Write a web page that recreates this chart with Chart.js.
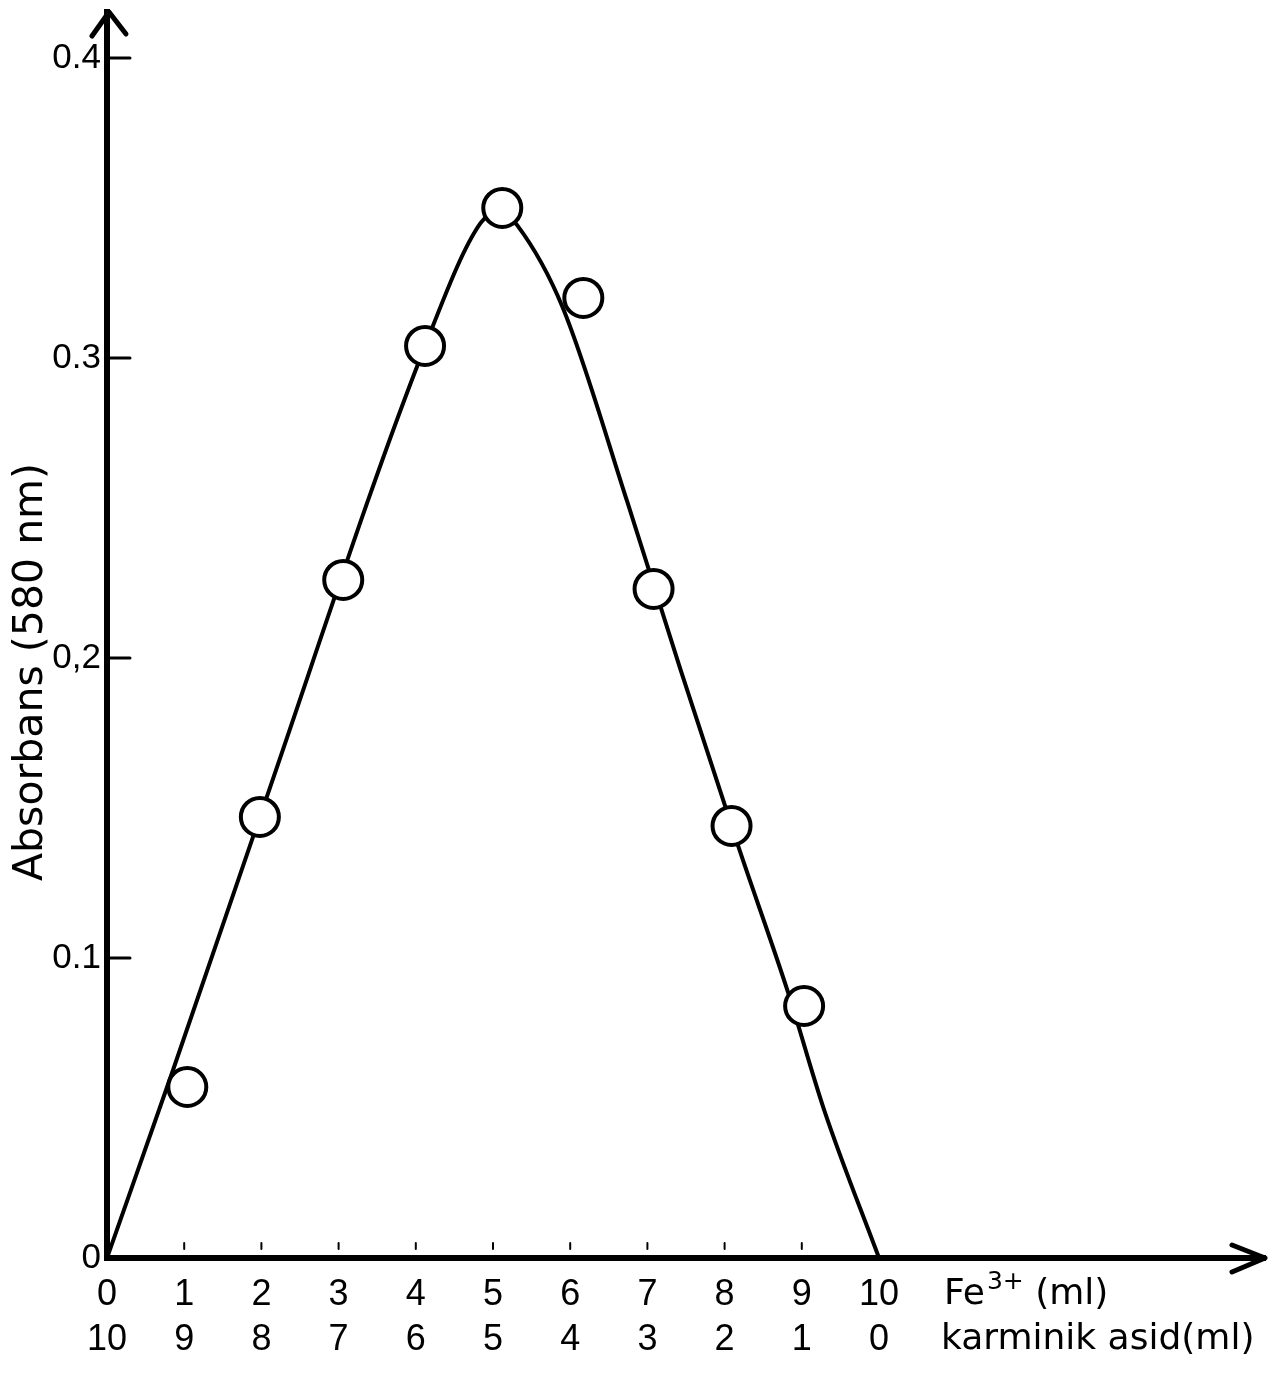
<!DOCTYPE html>
<html><head><meta charset="utf-8">
<script src="https://cdn.jsdelivr.net/npm/chart.js@4.4.1/dist/chart.umd.min.js"></script>
<style>html,body{margin:0;padding:0;background:#fff}#wrap{width:1282px;height:1375px;position:relative}canvas{display:block}</style>
</head><body><div id="wrap"><canvas id="c" width="1282" height="1375"></canvas></div>
<script>
// Measured points: Fe3+ volume (ml) vs absorbance at 580 nm
const fe3Volumes = [1.04, 1.98, 3.06, 4.12, 5.12, 6.17, 7.08, 8.09, 9.03];
const absorbance = [0.057, 0.147, 0.226, 0.304, 0.350, 0.320, 0.223, 0.144, 0.084];
// Hand-drawn fitted curve
const curveX = [0, 0.86, 1.98, 4.12, 4.84, 5.10, 5.32, 5.90, 6.74, 7.43, 8.18, 8.82, 9.29, 10];
const curveY = [0, 0.063, 0.147, 0.304, 0.345, 0.349, 0.344, 0.317, 0.252, 0.196, 0.137, 0.0887, 0.0493, 0];
// Tick labels
const xTickValues = [0, 1, 2, 3, 4, 5, 6, 7, 8, 9, 10];
const xTickLabelsFe = ['0', '1', '2', '3', '4', '5', '6', '7', '8', '9', '10'];
const xTickLabelsAcid = ['10', '9', '8', '7', '6', '5', '4', '3', '2', '1', '0'];
const yTickValues = [0, 0.1, 0.2, 0.3, 0.4];
const yTickLabels = ['0', '0.1', '0,2', '0.3', '0.4'];
const yTitle = 'Absorbans (580 nm)';
const xTitleFe = ['Fe', '3+', ' (ml)'];
const xTitleAcid = 'karminik asid(ml)';

const FONT = "'DejaVu Sans', sans-serif";
const NUMFONT = "'Liberation Sans', Arial, sans-serif";

const axisDeco = {
  id: 'axisDeco',
  afterDraw(chart) {
    const { ctx, chartArea: a, scales: { x, y } } = chart;
    ctx.save();
    ctx.strokeStyle = '#000';
    ctx.lineCap = 'round';
    ctx.lineJoin = 'round';
    // arrow heads
    ctx.lineWidth = 5;
    ctx.beginPath();
    ctx.moveTo(a.left - 15, a.top + 24);
    ctx.lineTo(a.left + 2, a.top);
    ctx.lineTo(a.left + 19, a.top + 22);
    ctx.stroke();
    ctx.beginPath();
    ctx.moveTo(a.right - 33, a.bottom - 13);
    ctx.lineTo(a.right, a.bottom);
    ctx.lineTo(a.right - 33, a.bottom + 14);
    ctx.stroke();
    // y ticks (to the right of the axis)
    ctx.lineWidth = 3;
    yTickValues.slice(1).forEach(v => {
      const py = y.getPixelForValue(v);
      ctx.beginPath(); ctx.moveTo(a.left, py); ctx.lineTo(a.left + 23, py); ctx.stroke();
    });
    // small x ticks above axis
    ctx.lineWidth = 2;
    xTickValues.slice(1, 10).forEach(v => {
      const px = x.getPixelForValue(v);
      ctx.beginPath(); ctx.moveTo(px, a.bottom - 15); ctx.lineTo(px, a.bottom - 9); ctx.stroke();
    });
    // x titles
    ctx.fillStyle = '#000';
    ctx.textBaseline = 'middle';
    ctx.textAlign = 'left';
    const tx = x.getPixelForValue(10) + 65;
    const r1 = a.bottom + 37, r2 = a.bottom + 82;
    ctx.font = '36px ' + FONT;
    let cx = tx;
    ctx.fillText(xTitleFe[0], cx, r1);
    cx += ctx.measureText(xTitleFe[0]).width + 2;
    ctx.font = '25px ' + FONT;
    ctx.fillText(xTitleFe[1], cx, r1 - 13);
    cx += ctx.measureText(xTitleFe[1]).width;
    ctx.font = '36px ' + FONT;
    ctx.fillText(xTitleFe[2], cx, r1);
    ctx.fillText(xTitleAcid, tx - 3, r2);
    // y title (rotated)
    ctx.translate(31, 672);
    ctx.rotate(-Math.PI / 2);
    ctx.textAlign = 'center';
    ctx.font = '41px ' + FONT;
    ctx.fillText(yTitle, 0, 0);
    ctx.restore();
  }
};

new Chart(document.getElementById('c'), {
  type: 'scatter',
  data: {
    datasets: [
      {
        label: 'measured',
        data: fe3Volumes.map((v, i) => ({ x: v, y: absorbance[i] })),
        showLine: false,
        pointRadius: 19,
        pointBorderWidth: 4,
        pointBackgroundColor: '#fff',
        pointBorderColor: '#000',
        order: 0
      },
      {
        label: 'curve',
        data: curveX.map((v, i) => ({ x: v, y: curveY[i] })),
        showLine: true,
        pointRadius: 0,
        borderColor: '#000',
        borderWidth: 4,
        cubicInterpolationMode: 'monotone',
        order: 1
      }
    ]
  },
  options: {
    responsive: false,
    animation: false,
    devicePixelRatio: 1,
    layout: { autoPadding: false, padding: { top: 12, right: 17, left: 0, bottom: 0 } },
    plugins: { legend: { display: false }, tooltip: { enabled: false } },
    scales: {
      x: {
        type: 'linear', min: 0, max: 15,
        afterBuildTicks: s => { s.ticks = xTickValues.map(v => ({ value: v })); },
        afterFit: s => { s.height = 117; s.paddingLeft = 0; s.paddingRight = 0; },
        grid: { display: false, drawTicks: false },
        border: { display: true, color: '#000', width: 6 },
        ticks: {
          autoSkip: false, maxRotation: 0, padding: 15, color: '#000',
          font: { family: NUMFONT, size: 36, lineHeight: 1.25 },
          callback: (v) => { const i = xTickValues.indexOf(v); return i < 0 ? '' : [xTickLabelsFe[i], xTickLabelsAcid[i]]; }
        }
      },
      y: {
        type: 'linear', min: 0, max: 0.4153,
        afterBuildTicks: s => { s.ticks = yTickValues.map(v => ({ value: v })); },
        afterFit: s => { s.width = 107; s.paddingTop = 0; s.paddingBottom = 0; },
        grid: { display: false, drawTicks: false },
        border: { display: true, color: '#000', width: 6 },
        ticks: {
          autoSkip: false, padding: 6, color: '#000',
          font: { family: NUMFONT, size: 35, lineHeight: 0.6 },
          callback: (v) => { const i = yTickValues.indexOf(v); return i < 0 ? '' : yTickLabels[i]; }
        },
        title: { display: false }
      }
    }
  },
  plugins: [axisDeco]
});
</script>
</body></html>
